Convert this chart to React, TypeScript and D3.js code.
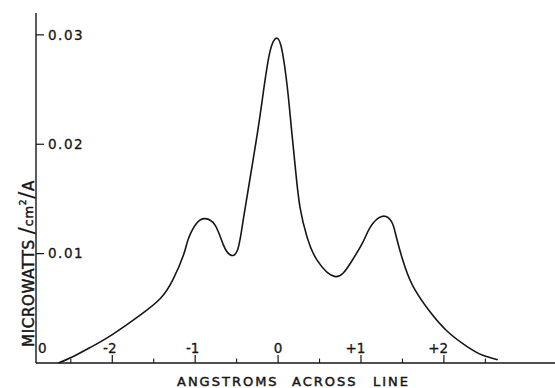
// spectral line profile, drawn with d3 scales
import React from 'react';
import * as d3 from 'd3';

// readings
const angstroms = [
  -2.65, -2.47, -2.27, -2.0, -1.66, -1.42, -1.27, -1.14, -1.08, -0.98, -0.88, -0.76,
  -0.66, -0.58, -0.49, -0.42, -0.34, -0.25, -0.19, -0.1, -0.01, 0.05, 0.11, 0.16,
  0.21, 0.265, 0.35, 0.47, 0.69, 0.87, 1.02, 1.11, 1.25, 1.37, 1.43, 1.53, 1.65,
  1.83, 2.04, 2.28, 2.47, 2.65,
];
const power = [
  0, 0.0006, 0.0014, 0.0026, 0.0044, 0.0059, 0.0076, 0.0099, 0.0114, 0.0128, 0.0132, 0.0126,
  0.0108, 0.0099, 0.0103, 0.0131, 0.0168, 0.021, 0.0241, 0.0284, 0.0297, 0.0285, 0.0253, 0.0215,
  0.0177, 0.0142, 0.0115, 0.0094, 0.0079, 0.0091, 0.011, 0.0124, 0.0134, 0.0129, 0.0114, 0.0088, 0.0067,
  0.0047, 0.0029, 0.0015, 0.0007, 0.0003,
];

const yTicks = [0.01, 0.02, 0.03];
const yTickLabels = ['0.01', '0.02', '0.03'];
const xMajor = [-2, -1, 0, 1, 2];
const xMajorLabels = ['-2', '-1', '0', '+1', '+2'];
const xMinor = [-2.5, -1.5, -0.5, 0.5, 1.5, 2.5];

const width = 555;
const height = 388;

const ink = '#161616';
const font = '"DejaVu Sans", Verdana, sans-serif';

const App: React.FC = () => {
  const x = d3.scaleLinear().domain([-2.92, 3.34]).range([36, 555]);
  const y = d3.scaleLinear().domain([0, 0.032]).range([363, 13]);

  const pts = angstroms.map((a, i) => [a, power[i]] as [number, number]);
  const line = d3
    .line<[number, number]>()
    .x(d => x(d[0]))
    .y(d => y(d[1]))
    .curve(d3.curveNatural);

  const x0 = x(x.domain()[0]);
  const y0 = y(0);

  return (
    <svg
      width={width}
      height={height}
      style={{ position: 'absolute', left: 0, top: 0, background: '#fff' }}
      fontFamily={font}
    >
      <rect width={width} height={height} fill="#fff" />
      {/* axes */}
      <line x1={x0} x2={x0} y1={y0} y2={y(0.032)} stroke={ink} strokeWidth={1.4} />
      <line x1={x0} x2={x(3.34)} y1={y0} y2={y0} stroke={ink} strokeWidth={1.4} />

      <g fill={ink} stroke={ink} strokeWidth={0.3}>
        {yTicks.map((t, i) => (
          <g key={t}>
            <line x1={x0} x2={x0 + 8} y1={y(t)} y2={y(t)} strokeWidth={1.2} />
            <text x={x0 + 12} y={y(t)} dy="0.36em" fontSize={13.5} letterSpacing={1.5}>
              {yTickLabels[i]}
            </text>
          </g>
        ))}
        <text x={x0 + 2} y={y0 - 10} fontSize={13.5}>0</text>

        {xMajor.map((t, i) => (
          <g key={t}>
            <line x1={x(t)} x2={x(t)} y1={y0} y2={y0 - 8} strokeWidth={1.2} />
            <text x={x(t) + 4.3} y={y0 - 10} textAnchor="end" fontSize={13.5}>
              {xMajorLabels[i]}
            </text>
          </g>
        ))}
        {xMinor.map(t => (
          <line key={t} x1={x(t)} x2={x(t)} y1={y0} y2={y0 - 4.5} strokeWidth={1.1} />
        ))}
      </g>

      {/* curve */}
      <path d={line(pts) || ''} fill="none" stroke={ink} strokeWidth={1.6} />

      {/* x title */}
      <g fontSize={13} fill={ink} stroke={ink} strokeWidth={0.45} letterSpacing={2}>
        <text x={177} y={386}>ANGSTROMS</text>
        <text x={292} y={386}>ACROSS</text>
        <text x={373} y={386}>LINE</text>
      </g>

      {/* y title */}
      <g transform="translate(34,347) rotate(-90)" fill={ink} stroke={ink} strokeWidth={0.45}>
        <text x={0} y={0} fontSize={15} letterSpacing={0.7}>
          MICROWATTS
          <tspan dx={5} fontSize={21} strokeWidth={0.2}>/</tspan>
          <tspan fontSize={13} dy={-1}>cm</tspan>
          <tspan dy={-7} fontSize={9}>2</tspan>
          <tspan dy={8} fontSize={21} strokeWidth={0.2}>/</tspan>
          <tspan>A</tspan>
        </text>
      </g>
    </svg>
  );
};

export default App;
